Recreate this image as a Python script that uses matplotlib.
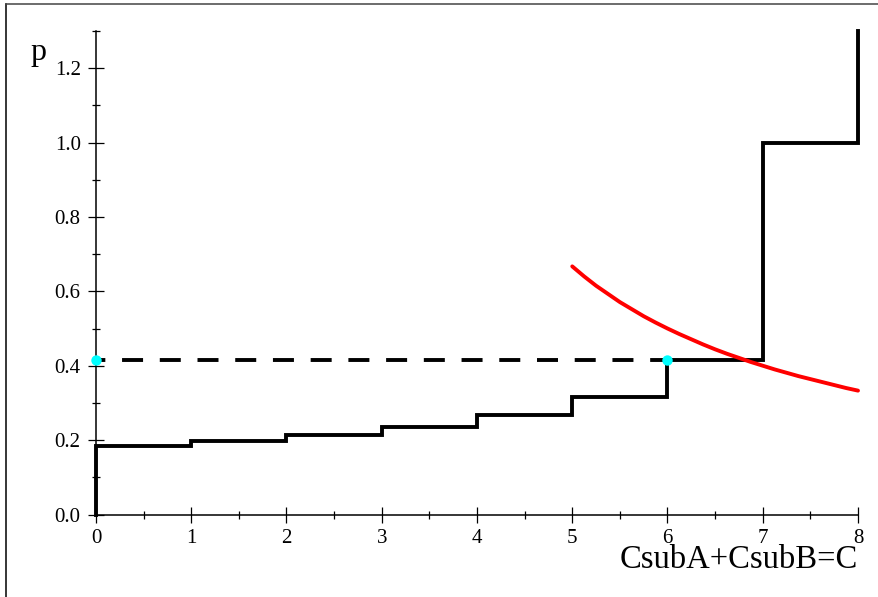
import matplotlib
matplotlib.use("Agg")
import matplotlib.pyplot as plt
from matplotlib.lines import Line2D
from matplotlib.ticker import MultipleLocator, FormatStrFormatter

# Data
step_x = [0, 0, 1, 2, 3, 4, 5, 6, 7, 8]
step_y = [0.0, 0.183, 0.197, 0.213, 0.235, 0.267, 0.317, 0.414, 1.0, 1.3]

red_x = [5.0, 5.125, 5.25, 5.375, 5.5, 5.625, 5.75, 5.875, 6.0, 6.125, 6.25, 6.375,
         6.5, 6.625, 6.75, 6.875, 7.0, 7.125, 7.25, 7.375, 7.5, 7.625, 7.75, 7.875, 8.0]
red_y = [0.667, 0.640, 0.615, 0.593, 0.571, 0.552, 0.533, 0.516, 0.500, 0.485,
         0.471, 0.457, 0.444, 0.432, 0.421, 0.410, 0.400, 0.390, 0.381, 0.372,
         0.364, 0.356, 0.348, 0.340, 0.333]

dash_x = [0, 6]
dash_y = [0.414, 0.414]

pts_x = [0, 6]
pts_y = [0.414, 0.414]

x_ticks = [0, 1, 2, 3, 4, 5, 6, 7, 8]
y_ticks = [0.0, 0.2, 0.4, 0.6, 0.8, 1.0, 1.2]

plt.rcParams['font.family'] = ['Liberation Serif', 'DejaVu Serif']

W, H = 879, 597
fig = plt.figure(figsize=(W / 100, H / 100), dpi=100)
left = 96 / W
right = 858 / W
bottom = (H - 514.5) / H
top = (H - 30.9) / H
ax = fig.add_axes([left, bottom, right - left, top - bottom])

ax.set_xlim(0, 8)
ax.set_ylim(0, 1.3)

for s in ['top', 'right']:
    ax.spines[s].set_visible(False)
for s in ['left', 'bottom']:
    ax.spines[s].set_linewidth(1.1)
    ax.spines[s].set_color('black')

ax.set_xticks(x_ticks)
ax.set_yticks(y_ticks)
ax.xaxis.set_minor_locator(MultipleLocator(0.5))
ax.yaxis.set_minor_locator(MultipleLocator(0.1))
ax.yaxis.set_major_formatter(FormatStrFormatter('%.1f'))
ax.xaxis.set_major_formatter(FormatStrFormatter('%d'))

ax.tick_params(which='major', direction='inout', length=11, width=0.9, labelsize=15)
ax.tick_params(which='minor', direction='inout', length=6, width=0.9)
ax.tick_params(axis='y', which='major', pad=5.5)
ax.tick_params(axis='x', which='major', pad=5)

lw = 2.8
ax.step(step_x, step_y, where='post', color='black', lw=lw, clip_on=False,
        solid_joinstyle='miter', zorder=3)
ax.plot(dash_x, dash_y, color='black', lw=lw, linestyle=(3.0, (5.4, 4.3)),
        dash_capstyle='butt', clip_on=False, zorder=3)
ax.plot(red_x, red_y, color='#ff0000', lw=lw, clip_on=False, zorder=4,
        solid_capstyle='round')
ax.plot(pts_x, pts_y, 'o', color='#00ffff', markersize=7.5, markeredgewidth=0,
        clip_on=False, zorder=5)

# axis labels
fig.text(30 / W, 1 - 60 / H, 'p', fontsize=23, ha='left', va='baseline')
fig.text(858 / W, 1 - 568 / H, 'CsubA+CsubB=C', fontsize=23.5, ha='right',
         va='baseline')

# partial frame
fig.add_artist(Line2D([6 / W, 6 / W], [0, 1 - 4 / H], color='black', lw=1.1,
                      transform=fig.transFigure))
fig.add_artist(Line2D([6 / W, 1], [1 - 4 / H, 1 - 4 / H], color='#444444', lw=1.1,
                      transform=fig.transFigure))

fig.savefig('out.png', dpi=100)
